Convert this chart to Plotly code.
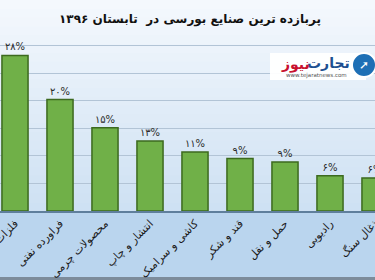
import plotly.graph_objects as go

categories = ["فلزات", "فراورده نفتی", "محصولات چرمی", "انتشار و چاپ", "کاشی و سرامیک",
              "قند و شکر", "حمل و نقل", "رادیویی", "ذغال سنگ"]
values = [28.2, 20.2, 15.1, 12.7, 10.7, 9.5, 8.9, 6.4, 6.0]
value_labels = ["۲۸%", "۲۰%", "۱۵%", "۱۳%", "۱۱%", "۹%", "۹%", "۶%", "۶%"]
title_text = "پربازده ترین صنایع بورسی در  تابستان ۱۳۹۶"

W, H = 375, 280
ML, MR, MT, MB = 0, 0, 40, 69
plot_h = H - MT - MB

def py(pix_from_top):
    return (H - MB - pix_from_top) / plot_h

def mix(c1, c2, t):
    return "rgb(%d,%d,%d)" % tuple(round(a + (b - a) * t) for a, b in zip(c1, c2))

shapes = []
# background gradient (top area + plot area)
top_c, bot_c = (244, 248, 253), (206, 225, 243)
n = 24
y_end = H - MB
for i in range(n):
    y0 = y_end * i / n
    y1 = y_end * (i + 1) / n + 0.6
    shapes.append(dict(type="rect", xref="paper", yref="paper", x0=0, x1=1,
                       y0=py(y1), y1=py(y0), line=dict(width=0),
                       fillcolor=mix(top_c, bot_c, i / (n - 1)), layer="below"))
# x label band
shapes.append(dict(type="rect", xref="paper", yref="paper", x0=0, x1=1,
                   y0=py(H), y1=py(H - MB), line=dict(width=0),
                   fillcolor="rgb(186,213,238)", layer="below"))
# bottom frame line
shapes.append(dict(type="rect", xref="paper", yref="paper", x0=0, x1=1,
                   y0=py(H), y1=py(H - 3), line=dict(width=0),
                   fillcolor="rgb(125,140,155)", layer="below"))
# logo box
shapes.append(dict(type="rect", xref="paper", yref="paper", x0=270 / W, x1=366 / W,
                   y0=py(80), y1=py(53), line=dict(width=0),
                   fillcolor="rgba(255,255,255,0.95)", layer="above"))
shapes.append(dict(type="circle", xref="paper", yref="paper", x0=352 / W, x1=376 / W,
                   y0=py(77), y1=py(53), line=dict(color="white", width=2),
                   fillcolor="#1d6fb5", layer="above"))

fig = go.Figure()
fig.add_trace(go.Bar(
    x=list(range(len(categories))), y=values,
    text=value_labels, textposition="outside", cliponaxis=False,
    textfont=dict(family="DejaVu Sans", size=10, color="#2b2b2b"),
    marker=dict(color="#70b048", line=dict(color="#3c6a1f", width=1.5)),
    width=0.58,
))

annotations = [
    dict(text="<b>" + title_text + "</b>", x=190 / W, y=py(19), xref="paper", yref="paper",
         xanchor="center", yanchor="middle",
         showarrow=False, font=dict(family="DejaVu Sans", size=12, color="#111111")),
    dict(text="<b>تجارت</b>", x=352 / W, y=py(63), xref="paper", yref="paper",
         xanchor="right", yanchor="middle", showarrow=False,
         font=dict(family="DejaVu Sans", size=14, color="#1d4f91")),
    dict(text="<b>نیوز</b>", x=312 / W, y=py(64), xref="paper", yref="paper",
         xanchor="right", yanchor="middle", showarrow=False,
         font=dict(family="DejaVu Sans", size=14, color="#c8102e")),
    dict(text="www.tejaratnews.com", x=316 / W, y=py(75), xref="paper", yref="paper",
         xanchor="center", yanchor="middle",
         showarrow=False, font=dict(family="DejaVu Sans", size=5.5, color="#555555")),
    dict(text="➚", x=364 / W, y=py(65), xref="paper", yref="paper",
         xanchor="center", yanchor="middle",
         showarrow=False, font=dict(family="DejaVu Sans", size=12, color="white")),
]

fig.update_layout(
    width=W, height=H,
    margin=dict(l=ML, r=MR, t=MT, b=MB, autoexpand=False),
    paper_bgcolor="rgb(230,239,248)",
    plot_bgcolor="rgba(0,0,0,0)",
    showlegend=False,
    shapes=shapes,
    annotations=annotations,
    xaxis=dict(
        tickmode="array", tickvals=list(range(len(categories))), ticktext=categories,
        range=[-1 / 3, 8], tickangle=-45, showgrid=False, zeroline=False,
        showline=True, linecolor="#5f7f9c", linewidth=1.5, ticks="",
        ticklabeloverflow="allow", automargin=False,
        tickfont=dict(family="DejaVu Sans", size=11, color="#1a1a1a"),
    ),
    yaxis=dict(
        range=[0, 31], dtick=5, showgrid=True, gridcolor="rgb(178,196,214)", gridwidth=1,
        showticklabels=False, zeroline=False, showline=False, ticks="", automargin=False,
    ),
)

fig.write_html("out.html")
